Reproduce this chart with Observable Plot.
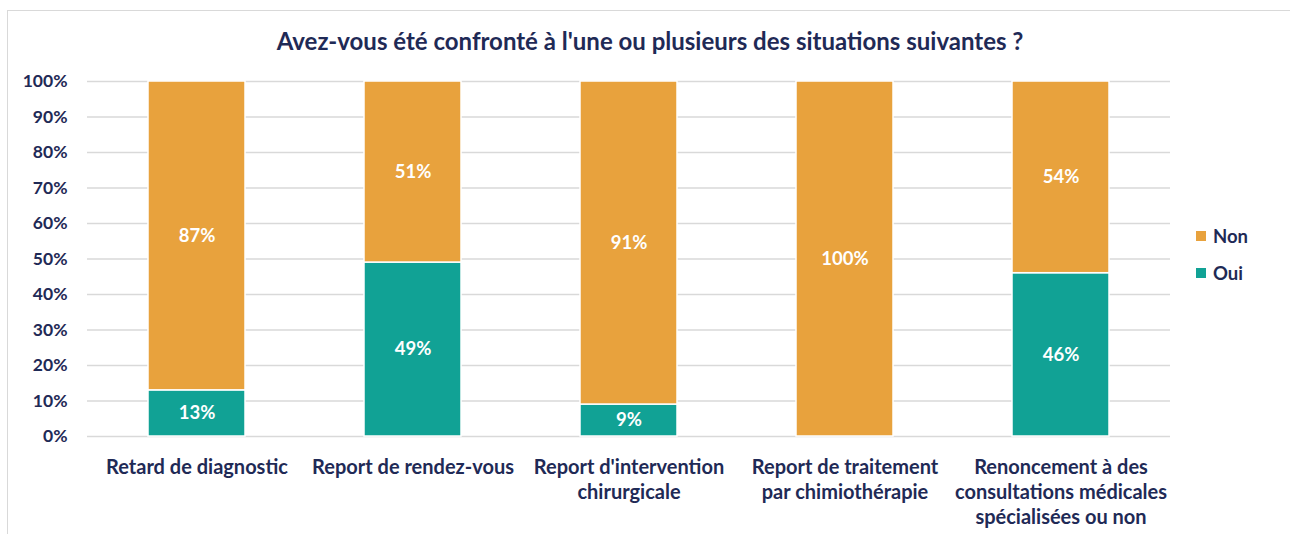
<!DOCTYPE html>
<html>
<head>
<meta charset="utf-8">
<script src="https://cdn.jsdelivr.net/npm/d3@7"></script>
<script src="https://cdn.jsdelivr.net/npm/@observablehq/plot@0.6"></script>
<style>
  html, body { margin: 0; padding: 0; background: #fff; }
  #wrap { position: relative; width: 1290px; height: 534px; overflow: hidden; font-family: Lato, "Open Sans", sans-serif; }
  #frame { position: absolute; left: 7px; top: 10px; width: 1290px; height: 600px; border: 1px solid #d9d9d9; box-sizing: border-box; }
  #title { position: absolute; left: 7px; width: 1286px; top: 27px; text-align: center; font-size: 24px; font-weight: 700; color: #1f2a56; line-height: 28px; }
  #chart { position: absolute; left: 0; top: 0; }
  #legend { position: absolute; left: 1196px; top: 217px; font-size: 18.5px; font-weight: 700; color: #1f2a56; }
  .item { display: flex; align-items: center; height: 37px; }
  .sw { width: 10px; height: 10px; margin-right: 7px; }
</style>
</head>
<body>
<div id="wrap">
  <div id="frame"></div>
  <div id="title">Avez-vous été confronté à l'une ou plusieurs des situations suivantes ?</div>
  <div id="chart"></div>
  <div id="legend"></div>
</div>
<script>
const categories = [
  "Retard de diagnostic",
  "Report de rendez-vous",
  "Report d'intervention\nchirurgicale",
  "Report de traitement\npar chimiothérapie",
  "Renoncement à des\nconsultations médicales\nspécialisées ou non"
];
const oui = [13, 49, 9, 0, 46];
const non = [87, 51, 91, 100, 54];
const seriesNames = ["Oui", "Non"];
const seriesColors = ["#11a295", "#e8a23d"];
const yTicks = [0, 10, 20, 30, 40, 50, 60, 70, 80, 90, 100];

const rows = [];
categories.forEach((c, i) => rows.push({cat: c, answer: "Oui", value: oui[i]}));
categories.forEach((c, i) => rows.push({cat: c, answer: "Non", value: non[i]}));

const navy = "#1f2a56";

const chart = Plot.plot({
  width: 1290,
  height: 534,
  marginTop: 81,
  marginBottom: 98,
  marginLeft: 87,
  marginRight: 120,
  style: {fontFamily: "Lato, 'Open Sans', sans-serif", fontWeight: 700, color: navy, background: "transparent"},
  x: {domain: categories, paddingInner: 0.553, paddingOuter: 0.2765, label: null},
  y: {domain: [0, 100], label: null},
  color: {domain: seriesNames, range: seriesColors},
  marks: [
    Plot.gridY(yTicks, {stroke: "#d9d9d9", strokeOpacity: 1, strokeWidth: 1.5}),
    Plot.barY(rows, {x: "cat", y: "value", fill: "answer", stroke: "white", strokeWidth: 1.5}),
    Plot.text(rows, Plot.stackY({x: "cat", y: "value", z: "answer", text: d => d.value > 0 ? d.value + "%" : "", fill: "white", fontSize: 18.5, fontWeight: 700})),
    Plot.axisY(yTicks, {tickSize: 0, tickPadding: 20, tickFormat: d => d + "%", fontSize: 17.5, fontWeight: 700, fill: navy, label: null}),
    Plot.axisX({tickSize: 0, tickPadding: 20, fontSize: 20, fontWeight: 700, fill: navy, lineHeight: 1.25, lineAnchor: "top", label: null})
  ]
});
document.getElementById("chart").appendChild(chart);

const legend = document.getElementById("legend");
[["Non", seriesColors[1]], ["Oui", seriesColors[0]]].forEach(([name, col]) => {
  const it = document.createElement("div");
  it.className = "item";
  const sw = document.createElement("span");
  sw.className = "sw";
  sw.style.background = col;
  const t = document.createElement("span");
  t.textContent = name;
  it.appendChild(sw); it.appendChild(t);
  legend.appendChild(it);
});
</script>
</body>
</html>
